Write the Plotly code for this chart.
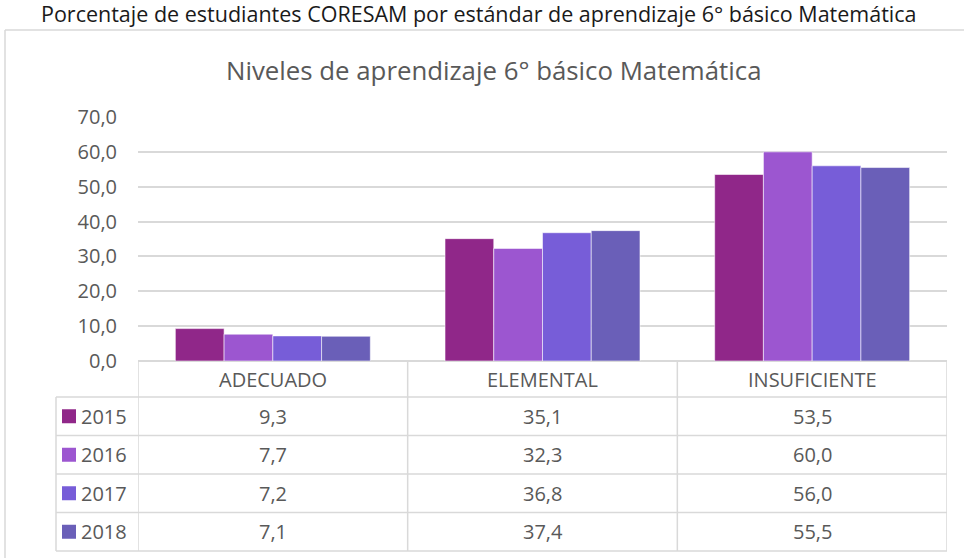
import plotly.graph_objects as go

categories = ["ADECUADO", "ELEMENTAL", "INSUFICIENTE"]
years = ["2015", "2016", "2017", "2018"]
v2015 = [9.3, 35.1, 53.5]
v2016 = [7.7, 32.3, 60.0]
v2017 = [7.2, 36.8, 56.0]
v2018 = [7.1, 37.4, 55.5]
series = [v2015, v2016, v2017, v2018]
colors = ["#902789", "#9C56D0", "#775DD8", "#6A5FB8"]
y_ticks = [0, 10, 20, 30, 40, 50, 60, 70]

W, H = 964, 558
L, R = 138, 947
T, B = 117, 361
FONT = "Open Sans"
GRAY = "#595959"
LINE = "#d9d9d9"

def px_x(px):
    return (px - L) / (R - L)

def px_y(py):
    return (B - py) / (B - T)

fig = go.Figure()
for yr, vals, c in zip(years, series, colors):
    fig.add_trace(go.Bar(x=list(range(len(categories))), y=vals, name=yr,
                         marker=dict(color=c, line=dict(color="rgba(255,255,255,0.55)", width=1))))

shapes = []
annotations = []

# outer chart border
shapes.append(dict(type="line", xref="paper", yref="paper", x0=px_x(5), x1=px_x(970), y0=px_y(30), y1=px_y(30),
                   line=dict(color=LINE, width=1.5)))
shapes.append(dict(type="line", xref="paper", yref="paper", x0=px_x(5), x1=px_x(5), y0=px_y(30), y1=px_y(570),
                   line=dict(color=LINE, width=1.5)))

# table geometry
header_bottom = 397
row_h = 38.5
n_rows = len(years)
table_bottom = header_bottom + row_h * n_rows
legend_left = 56

for i in range(n_rows + 1):
    yy = header_bottom + row_h * i
    shapes.append(dict(type="line", xref="paper", yref="paper", x0=px_x(legend_left), x1=1,
                       y0=px_y(yy), y1=px_y(yy), line=dict(color=LINE, width=1.5)))
for k in range(len(categories) + 1):
    xb = k - 0.5
    shapes.append(dict(type="line", xref="x", yref="paper", x0=xb, x1=xb,
                       y0=0, y1=px_y(table_bottom), line=dict(color=LINE, width=1.5)))
shapes.append(dict(type="line", xref="paper", yref="paper", x0=px_x(legend_left), x1=px_x(legend_left),
                   y0=px_y(header_bottom), y1=px_y(table_bottom), line=dict(color=LINE, width=1.5)))

for k, cat in enumerate(categories):
    annotations.append(dict(x=k, y=px_y((B + header_bottom) / 2), xref="x", yref="paper", text=cat,
                            xanchor="center", yanchor="middle",
                            showarrow=False, font=dict(family=FONT, size=20, color=GRAY)))
for i, (yr, vals, c) in enumerate(zip(years, series, colors)):
    yc = header_bottom + row_h * (i + 0.5)
    shapes.append(dict(type="rect", xref="paper", yref="paper", x0=px_x(62), x1=px_x(76),
                       y0=px_y(yc + 7), y1=px_y(yc - 7), fillcolor=c, line=dict(width=0)))
    annotations.append(dict(x=px_x(79), y=px_y(yc), xref="paper", yref="paper", xanchor="left", yanchor="middle",
                            text=yr, showarrow=False,
                            font=dict(family=FONT, size=20, color=GRAY)))
    for k, v in enumerate(vals):
        annotations.append(dict(x=k, y=px_y(yc), xref="x", yref="paper", xanchor="center", yanchor="middle",
                                text=f"{v:.1f}".replace(".", ","), showarrow=False,
                                font=dict(family=FONT, size=20, color=GRAY)))

annotations.append(dict(x=px_x(479), y=px_y(14), xref="paper", yref="paper", xanchor="center", yanchor="middle",
                        text="Porcentaje de estudiantes CORESAM por estándar de aprendizaje 6° básico Matemática",
                        showarrow=False, font=dict(family=FONT, size=21.5, color="#1a1a1a")))
annotations.append(dict(x=px_x(494), y=px_y(70), xref="paper", yref="paper", xanchor="center", yanchor="middle",
                        text="Niveles de aprendizaje 6° básico Matemática",
                        showarrow=False, font=dict(family=FONT, size=25.8, color=GRAY)))

fig.update_layout(
    width=W, height=H,
    margin=dict(l=L, r=W - R, t=T, b=H - B),
    paper_bgcolor="white", plot_bgcolor="white",
    barmode="group", bargap=0.277, bargroupgap=0,
    showlegend=False,
    separators=", ",
    shapes=shapes, annotations=annotations,
    xaxis=dict(range=[-0.5, len(categories) - 0.5], showticklabels=False, showgrid=False,
               zeroline=False, showline=False, fixedrange=True),
    yaxis=dict(range=[0, 70], tickvals=y_ticks, tickformat=".1f", showgrid=True, gridcolor=LINE,
               gridwidth=1.5, zeroline=True, zerolinecolor=LINE, zerolinewidth=1.5,
               ticklabelstandoff=20, tickfont=dict(family=FONT, size=20, color=GRAY)),
)

fig.write_html("out.html", config={"displayModeBar": False},
               post_script="document.body.style.margin='0';")
